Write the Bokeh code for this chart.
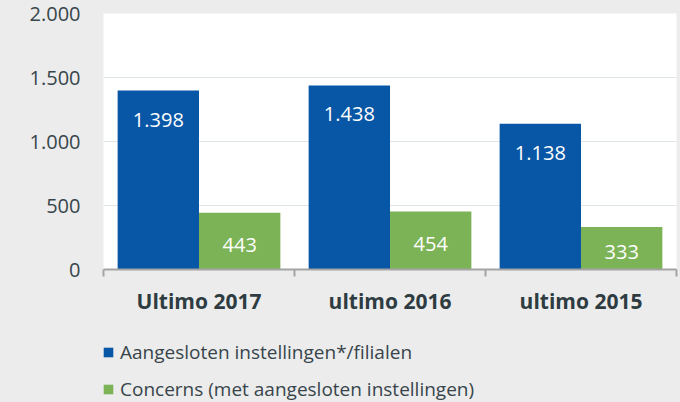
import numpy as np
from bokeh.plotting import figure
from bokeh.layouts import column
from bokeh.models import Range1d, FixedTicker, Legend, LegendItem, ColumnDataSource
from bokeh.transform import dodge
from bokeh.core.properties import value
from bokeh.embed import file_html
from bokeh.resources import INLINE

# ---- data ----
categories = ["Ultimo 2017", "ultimo 2016", "ultimo 2015"]
series_names = ["Aangesloten instellingen*/filialen",
                "Concerns (met aangesloten instellingen)"]
instellingen = [1398, 1438, 1138]
concerns = [443, 454, 333]
y_ticks = [0, 500, 1000, 1500, 2000]
y_tick_labels = ["0", "500", "1.000", "1.500", "2.000"]

# ---- styles ----
BLUE = "#0857a6"
GREEN = "#7cb356"
BG = "#ececec"
FONT = "Open Sans"
TEXT = "#37454b"
BW = 0.426


def nl(v):
    return f"{v:,}".replace(",", ".")


centers = np.arange(len(categories)) + 0.5
src = ColumnDataSource(dict(
    x=centers,
    inst=instellingen,
    conc=concerns,
    conc_mid=[v / 2 for v in concerns],
    inst_lbl=[nl(v) for v in instellingen],
    conc_lbl=[nl(v) for v in concerns],
))

p = figure(width=680, height=324, output_backend="svg", toolbar_location=None,
           x_range=Range1d(0, len(categories)), y_range=Range1d(0, 2000),
           min_border_left=103, min_border_right=4, min_border_top=13,
           min_border_bottom=55, styles={"background-color": BG})
p.background_fill_color = "white"
p.border_fill_color = BG
p.outline_line_color = None

r1 = p.vbar(x=dodge("x", -BW / 2), top="inst", width=BW, source=src,
            fill_color=BLUE, line_color=None)
r2 = p.vbar(x=dodge("x", BW / 2), top="conc", width=BW, source=src,
            fill_color=GREEN, line_color=None)

p.text(x=dodge("x", -BW / 2), y="inst", text="inst_lbl", source=src,
       text_align="center", text_baseline="middle", y_offset=29,
       text_color="white", text_font=value(FONT), text_font_size="20px")
p.text(x=dodge("x", BW / 2), y="conc_mid", text="conc_lbl", source=src,
       text_align="center", text_baseline="middle", y_offset=4,
       text_color="white", text_font=value(FONT), text_font_size="20px")

# y axis
yt = FixedTicker(ticks=y_ticks)
p.yaxis.ticker = yt
p.ygrid.ticker = yt
p.yaxis.major_label_overrides = dict(zip(y_ticks, y_tick_labels))
p.yaxis.axis_line_color = None
p.yaxis.major_tick_line_color = None
p.yaxis.minor_tick_line_color = None
p.yaxis.major_tick_out = 0
p.yaxis.major_tick_in = 0
p.yaxis.major_label_standoff = 23
p.yaxis.major_label_text_font = FONT
p.yaxis.major_label_text_font_size = "20px"
p.yaxis.major_label_text_color = TEXT
p.ygrid.grid_line_color = "#dde6e6"
p.ygrid.grid_line_width = 1.2
p.xgrid.grid_line_color = None

# x axis
xt = FixedTicker(ticks=list(centers), minor_ticks=list(range(len(categories) + 1)))
p.xaxis.ticker = xt
p.xaxis.major_label_overrides = {float(c): n for c, n in zip(centers, categories)}
p.xaxis.major_tick_line_color = None
p.xaxis.major_tick_out = 0
p.xaxis.major_tick_in = 0
p.xaxis.minor_tick_out = 7
p.xaxis.minor_tick_in = 0
p.xaxis.minor_tick_line_color = "#a3a3a3"
p.xaxis.minor_tick_line_width = 2
p.xaxis.axis_line_color = "#a3a3a3"
p.xaxis.axis_line_width = 2
p.xaxis.major_label_standoff = 10
p.xaxis.major_label_text_font = FONT
p.xaxis.major_label_text_font_style = "bold"
p.xaxis.major_label_text_font_size = "21px"
p.xaxis.major_label_text_color = "#2e3c42"

# ---- legend strip below the chart ----
# swatch renderers share the chart's data but are hidden; only their legend
# glyphs are drawn
pl = figure(width=680, height=78, output_backend="svg", toolbar_location=None,
            x_range=Range1d(0, len(categories)), y_range=Range1d(0, 2000),
            x_axis_location=None, y_axis_location=None,
            min_border_left=0, min_border_right=0, min_border_top=0,
            min_border_bottom=0, styles={"background-color": BG})
pl.grid.visible = False
pl.background_fill_color = BG
pl.border_fill_color = BG
pl.outline_line_color = None
lr1 = pl.vbar(x="x", top="inst", width=BW, source=src,
              fill_color=BLUE, line_color=None, visible=False)
lr2 = pl.vbar(x="x", top="conc", width=BW, source=src,
              fill_color=GREEN, line_color=None, visible=False)

legend = Legend(items=[LegendItem(label=series_names[0], renderers=[lr1]),
                       LegendItem(label=series_names[1], renderers=[lr2])],
                location=(-1, 0), orientation="vertical",
                glyph_width=12, glyph_height=12, label_height=24,
                label_standoff=6, spacing=11, padding=0, margin=0,
                border_line_color=None, background_fill_alpha=0,
                label_text_font=FONT, label_text_font_size="19px",
                label_text_color=TEXT)
pl.add_layout(legend, "center")

layout = column(p, pl, spacing=0, styles={"background-color": BG})
open("out.html", "w").write(file_html(layout, INLINE))
